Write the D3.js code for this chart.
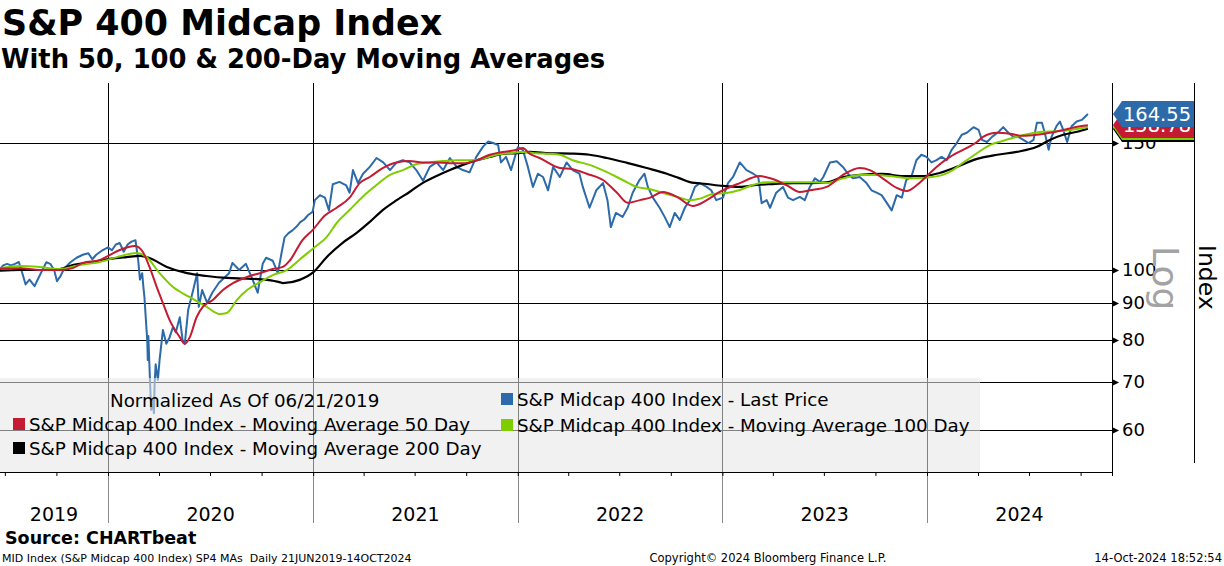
<!DOCTYPE html>
<html><head><meta charset="utf-8">
<script src="https://cdn.jsdelivr.net/npm/d3@7"></script>
<style>
body{margin:0;background:#fff}
svg{display:block}
text{font-family:"DejaVu Sans",sans-serif}
</style>
</head><body>
<svg id="c" width="1224" height="566"></svg>
<script>
// ---------------- data ----------------
const yTicks = [60, 70, 80, 90, 100, 150];
const yearLabels = ["2019", "2020", "2021", "2022", "2023", "2024"];
const seriesNames = [
  "S&P Midcap 400 Index - Last Price",
  "S&P Midcap 400 Index - Moving Average 50 Day",
  "S&P Midcap 400 Index - Moving Average 100 Day",
  "S&P Midcap 400 Index - Moving Average 200 Day"
];
const lastValues = [164.55, 158.78, 157.9, 157.0];

const lastPrice = [
["2019-06-21",100],["2019-06-28",101.5],["2019-07-05",102],["2019-07-12",101.5],["2019-07-19",102],["2019-07-26",102.6],
["2019-08-02",98.5],["2019-08-07",95.5],["2019-08-14",97],["2019-08-23",95],["2019-08-30",97.5],["2019-09-06",100],
["2019-09-13",102.5],["2019-09-20",102],["2019-09-27",100],["2019-10-02",96.5],["2019-10-08",98],["2019-10-15",100.5],
["2019-10-26",102.5],["2019-11-06",104],["2019-11-17",105],["2019-11-27",105.5],["2019-12-04",103.5],["2019-12-11",105],
["2019-12-22",106.5],["2020-01-01",107.5],
["2020-01-08",106.5],["2020-01-15",108.5],["2020-01-22",109],["2020-01-29",106],["2020-02-05",108.5],["2020-02-12",109.5],
["2020-02-19",110],["2020-02-24",103],["2020-02-27",97],["2020-03-02",99],["2020-03-04",95],["2020-03-06",91.7],
["2020-03-09",84.4],["2020-03-11",80],["2020-03-12",75],["2020-03-13",81],["2020-03-16",70],["2020-03-18",64],
["2020-03-20",66],["2020-03-23",63.3],["2020-03-24",69],["2020-03-26",74],["2020-03-30",70.4],["2020-04-02",75],
["2020-04-08",82.6],["2020-04-14",79],["2020-04-20",80.7],["2020-04-26",83.4],["2020-05-01",82],["2020-05-08",86],
["2020-05-13",80],["2020-05-17",79],["2020-05-23",88],["2020-06-01",93.8],["2020-06-08",99],["2020-06-11",88.9],
["2020-06-17",93.8],["2020-06-26",90],["2020-07-05",93],["2020-07-17",96],["2020-07-26",97.5],["2020-08-04",99],
["2020-08-10",102.3],["2020-08-22",100],["2020-09-03",102],["2020-09-15",97],["2020-09-24",93],["2020-10-03",102],
["2020-10-09",104],["2020-10-21",103],["2020-10-30",99],["2020-11-06",106],["2020-11-11",111],["2020-11-18",112.5],
["2020-11-25",113.5],["2020-12-02",114.8],["2020-12-09",116.5],["2020-12-16",117.5],["2020-12-23",119.2],["2020-12-31",120.4],
["2021-01-04",125],["2021-01-13",127],["2021-01-22",126],["2021-01-29",121],["2021-02-05",131.5],["2021-02-17",132.5],
["2021-03-01",131],["2021-03-07",128],["2021-03-13",137.6],["2021-03-22",132],["2021-03-31",136],["2021-04-12",139],
["2021-04-24",143],["2021-05-06",141],["2021-05-18",137.6],["2021-05-30",141],["2021-06-10",142],["2021-06-22",141],
["2021-07-04",137.6],["2021-07-16",133],["2021-07-28",139],["2021-08-09",141],["2021-08-21",137.6],["2021-09-02",143],
["2021-09-14",139],["2021-09-25",137.6],["2021-10-07",136.6],["2021-10-19",143.5],["2021-10-31",148.3],["2021-11-09",150.7],
["2021-11-18",150],["2021-11-27",149],["2021-12-02",141],["2021-12-11",143.5],["2021-12-20",137.6],["2022-01-01",148],
["2022-01-10",146.8],["2022-01-19",139],["2022-01-28",130.4],["2022-02-06",136],["2022-02-15",134.6],["2022-02-24",129],
["2022-03-05",139],["2022-03-17",134.6],["2022-03-29",141],["2022-04-09",137.6],["2022-04-21",136],["2022-04-27",130.4],
["2022-05-09",122],["2022-05-21",129],["2022-06-02",132],["2022-06-10",125],["2022-06-16",114.7],["2022-06-25",120],
["2022-07-07",118.5],["2022-07-16",122],["2022-07-25",128],["2022-08-06",133.3],["2022-08-15",136],["2022-08-21",130.4],
["2022-08-30",126],["2022-09-11",122],["2022-09-20",118.5],["2022-09-29",114.7],["2022-10-08",120],["2022-10-17",117.3],
["2022-10-26",122],["2022-11-04",125],["2022-11-13",130.4],["2022-11-22",132],["2022-12-04",130.4],["2022-12-12",129],
["2022-12-21",125],["2023-01-02",126],
["2023-01-11",132],["2023-01-20",134.6],["2023-02-01",141],["2023-02-13",137.6],["2023-02-25",136],["2023-03-06",134.6],
["2023-03-12",123.8],["2023-03-21",125],["2023-03-27",122],["2023-04-07",128],["2023-04-19",130.4],["2023-04-28",126],
["2023-05-07",125],["2023-05-19",126.3],["2023-05-28",125],["2023-06-06",130.4],["2023-06-15",134],["2023-06-24",132.5],
["2023-06-30",134.6],["2023-07-12",141],["2023-07-24",141.5],["2023-08-04",139],["2023-08-13",136],["2023-08-22",134],
["2023-09-03",134.6],["2023-09-15",132],["2023-09-24",129],["2023-10-03",128],["2023-10-12",127],["2023-10-21",124],
["2023-10-30",121],["2023-11-08",127],["2023-11-17",126],["2023-11-25",133.3],["2023-12-04",134.6],["2023-12-13",142],
["2023-12-22",144.5],["2023-12-31",143.5],
["2024-01-09",141],["2024-01-18",142],["2024-01-27",143.5],["2024-02-05",142],["2024-02-14",146.8],["2024-02-23",150],
["2024-03-03",154],["2024-03-12",155],["2024-03-24",157.8],["2024-04-02",156.4],["2024-04-08",151.5],["2024-04-17",150.5],
["2024-04-26",153],["2024-05-08",155.5],["2024-05-16",157.8],["2024-05-25",155],["2024-06-03",153],["2024-06-12",153],
["2024-06-21",151.5],["2024-06-30",150],["2024-07-09",151.5],["2024-07-15",160],["2024-07-24",160],["2024-07-29",155],
["2024-08-05",146.8],["2024-08-10",153],["2024-08-19",158.3],["2024-08-25",160.7],["2024-08-31",156.4],["2024-09-07",150.5],
["2024-09-15",158.3],["2024-09-24",160.7],["2024-10-03",161.5],["2024-10-14",164.55]
];

const ma50 = [
["2019-06-21",100.5],["2019-07-28",100.6],["2019-09-01",100],["2019-10-07",100],["2019-10-30",100.6],["2019-11-17",102.3],
["2019-12-17",103.2],["2020-01-04",104.9],["2020-01-22",106.6],["2020-02-18",108],["2020-03-03",106],["2020-03-15",101],
["2020-03-28",94.7],["2020-04-08",90],["2020-04-20",85.2],["2020-05-08",80.7],["2020-05-17",79],["2020-05-26",80.7],
["2020-06-07",86],["2020-06-18",88.9],["2020-07-06",90.9],["2020-07-24",93.8],["2020-08-11",95.9],["2020-09-05",97.8],
["2020-09-28",99],["2020-10-21",100.3],["2020-11-08",101],["2020-11-20",103],["2020-12-13",110],["2020-12-31",113.6],
["2021-01-22",119],["2021-02-12",122],["2021-03-07",126],["2021-03-25",132],["2021-04-12",134.6],["2021-05-05",138.5],
["2021-05-30",141],["2021-06-22",141.6],["2021-07-15",141],["2021-08-09",141],["2021-09-02",140.6],["2021-09-25",140.6],
["2021-10-20",142],["2021-11-12",144.5],["2021-12-05",145.8],["2021-12-30",146.8],["2022-01-10",147.7],["2022-01-22",145],
["2022-02-09",143],["2022-03-17",138.5],["2022-04-09",138],["2022-05-04",136],["2022-06-02",133.3],["2022-06-27",128],
["2022-07-16",124],["2022-08-07",125],["2022-08-24",125.9],["2022-09-17",128.3],["2022-10-12",126.3],["2022-11-09",122.7],
["2022-12-04",125],["2022-12-27",128.3],["2023-02-01",132],["2023-03-09",135],["2023-04-01",133.7],["2023-04-26",131],
["2023-05-19",128.3],["2023-06-06",129],["2023-07-06",130.4],["2023-08-04",135.5],["2023-09-03",138.5],["2023-09-21",137.6],
["2023-10-14",134],["2023-11-08",130],["2023-11-26",128.7],["2023-12-14",131.2],["2023-12-30",134.6],["2024-01-18",139],
["2024-02-11",143.5],["2024-03-12",147.7],["2024-03-30",150.5],["2024-04-10",153],["2024-05-05",155],["2024-05-28",154.5],
["2024-06-20",153.5],["2024-07-15",154],["2024-08-07",155],["2024-08-31",156.4],["2024-09-25",158],["2024-10-14",158.78]
];

const ma100 = [
["2019-06-21",100.6],["2019-07-28",101.3],["2019-09-01",101],["2019-10-07",100.3],["2019-11-12",101.6],["2019-12-17",102.6],
["2020-01-17",104.2],["2020-02-21",105.6],["2020-03-10",104.2],["2020-04-02",99],["2020-04-26",94.7],["2020-05-26",91.7],
["2020-06-25",88.9],["2020-07-18",86.9],["2020-07-31",87.2],["2020-08-18",90.9],["2020-09-05",93.8],["2020-09-28",96.2],
["2020-10-21",98.4],["2020-11-15",100],["2020-12-13",104.2],["2021-01-02",107.3],["2021-01-25",111.1],["2021-02-12",116.2],
["2021-03-07",121.1],["2021-03-30",126.3],["2021-04-24",131.2],["2021-05-18",135.5],["2021-06-10",137.6],["2021-07-05",140.3],
["2021-07-28",141],["2021-08-20",141.6],["2021-09-14",142],["2021-10-07",142],["2021-10-30",142.6],["2021-11-24",144.5],
["2021-12-18",145.2],["2022-01-10",145.8],["2022-02-04",145.2],["2022-02-27",144.9],["2022-03-17",144.5],["2022-04-09",142],
["2022-05-09",139.9],["2022-06-09",136.7],["2022-07-07",133.3],["2022-08-01",130.4],["2022-08-24",129.5],["2022-09-17",127.9],
["2022-10-12",126.3],["2022-11-04",125],["2022-11-22",125.6],["2022-12-15",127.5],["2023-01-09",127.9],["2023-02-01",129.1],
["2023-02-24",131.2],["2023-03-21",132.4],["2023-04-13",132.4],["2023-05-06",132.4],["2023-06-06",132.4],["2023-07-06",132],
["2023-08-04",134],["2023-09-03",135.5],["2023-10-03",135.5],["2023-11-08",134.6],["2023-12-07",134],["2023-12-30",134.3],
["2024-01-29",135.5],["2024-02-16",137.6],["2024-03-05",140.8],["2024-03-30",145.2],["2024-04-22",149],["2024-05-15",151],
["2024-06-09",153],["2024-07-02",154.5],["2024-07-25",155.5],["2024-08-19",155.8],["2024-09-12",156.4],["2024-10-14",157.9]
];

const ma200 = [
["2019-06-21",99.8],["2019-07-28",100],["2019-09-01",100],["2019-10-07",100.3],["2019-10-30",101.6],["2019-12-05",102.6],
["2020-01-04",103.6],["2020-02-03",104.2],["2020-02-27",104.6],["2020-03-15",103.9],["2020-04-15",101],["2020-05-21",99],
["2020-06-25",98.1],["2020-07-31",97.5],["2020-09-05",97.3],["2020-10-10",96.9],["2020-11-02",96.2],["2020-11-08",95.9],
["2020-12-08",96.9],["2021-01-02",99.4],["2021-01-25",104.2],["2021-02-22",109],["2021-03-19",112.5],["2021-04-12",116.6],
["2021-05-05",121.1],["2021-05-30",125],["2021-06-22",128.3],["2021-07-15",132],["2021-08-09",135],["2021-09-02",137.6],
["2021-09-25",139.9],["2021-10-20",142],["2021-11-12",143.5],["2021-12-05",144.9],["2021-12-30",145.2],["2022-01-22",145.8],
["2022-02-27",145.2],["2022-04-09",145],["2022-05-09",144.5],["2022-06-09",143],["2022-07-15",140.8],["2022-08-19",138.5],
["2022-09-24",136],["2022-10-17",134],["2022-11-04",132.4],["2022-12-04",131.6],["2023-01-02",130.8],["2023-02-01",130.4],
["2023-03-03",131.2],["2023-04-01",131.6],["2023-05-07",132],["2023-06-06",132],["2023-07-06",132.3],["2023-08-04",134.6],
["2023-09-03",135.5],["2023-10-14",135.9],["2023-11-19",135],["2023-12-24",135],["2024-01-18",136],["2024-02-23",139],
["2024-03-30",142.6],["2024-05-05",144.5],["2024-06-09",145.8],["2024-07-15",148.2],["2024-08-07",151.5],["2024-08-31",154],
["2024-09-25",155.5],["2024-10-14",157]
];

const colors = ["#2d6aa9", "#c41a32", "#7fcc00", "#000000"];

// ---------------- drawing ----------------
const svg = d3.select("#c");
const parse = d3.utcParse("%Y-%m-%d");
const start = parse("2019-06-21");
const end = d3.utcDay.offset(start, 1985);
const L = -0.76, R = 1112, T = 83, B = 472;

const x = d3.scaleUtc().domain([start, end]).range([L, R]);
const y = d3.scaleLog().domain([52.47, 181.7]).range([B, T]);

svg.append("defs").append("clipPath").attr("id", "clip")
  .append("rect").attr("x", 0).attr("y", T).attr("width", R).attr("height", B - T);

// titles
svg.append("text").attr("x", 2).attr("y", 35).attr("font-size", 34.9).attr("font-weight", "bold")
  .text("S&P 400 Midcap Index");
svg.append("text").attr("x", 1).attr("y", 68).attr("font-size", 25.8).attr("font-weight", "bold")
  .text("With 50, 100 & 200-Day Moving Averages");

// horizontal gridlines
svg.append("g").selectAll("line").data(yTicks).join("line")
  .attr("x1", 0).attr("x2", R).attr("y1", d => Math.round(y(d)) + 0.5).attr("y2", d => Math.round(y(d)) + 0.5)
  .attr("stroke", "#000").attr("stroke-width", 1);

// year boundaries
const years = d3.utcYear.range(start, end);
svg.append("g").selectAll("line").data(years).join("line")
  .attr("x1", d => Math.round(x(d)) + 0.5).attr("x2", d => Math.round(x(d)) + 0.5)
  .attr("y1", T).attr("y2", B).attr("stroke", "#000");
svg.append("g").selectAll("line").data(years).join("line")
  .attr("x1", d => Math.round(x(d)) + 0.5).attr("x2", d => Math.round(x(d)) + 0.5)
  .attr("y1", B).attr("y2", 523).attr("stroke", "#8a8a8a");

// series
const plot = svg.append("g").attr("clip-path", "url(#clip)");
const line = d3.line().x(d => x(parse(d[0]))).y(d => y(d[1]));
const smooth = d3.line().x(d => x(parse(d[0]))).y(d => y(d[1])).curve(d3.curveMonotoneX);
plot.append("path").datum(lastPrice).attr("d", line).attr("fill", "none")
  .attr("stroke", colors[0]).attr("stroke-width", 2).attr("stroke-linejoin", "round");
plot.append("path").datum(ma200).attr("d", smooth).attr("fill", "none").attr("stroke", colors[3]).attr("stroke-width", 2.2);
plot.append("path").datum(ma100).attr("d", smooth).attr("fill", "none").attr("stroke", colors[2]).attr("stroke-width", 2);
plot.append("path").datum(ma50).attr("d", smooth).attr("fill", "none").attr("stroke", colors[1]).attr("stroke-width", 2);

// legend (semi-transparent box)
svg.append("rect").attr("x", 0).attr("y", 378).attr("width", 980).attr("height", B - 378)
  .attr("fill", "#e6e6e6").attr("fill-opacity", 0.56);
const lg = svg.append("g").attr("font-size", 18.3);
lg.append("text").attr("x", 110).attr("y", 407).text("Normalized As Of 06/21/2019");
const legendItems = [
  {i: 0, x: 501, y: 393}, {i: 1, x: 13, y: 418}, {i: 2, x: 501, y: 419}, {i: 3, x: 13, y: 442}
];
legendItems.forEach(it => {
  lg.append("rect").attr("x", it.x).attr("y", it.y).attr("width", 12).attr("height", 12).attr("fill", colors[it.i]);
  lg.append("text").attr("x", it.x + 16).attr("y", it.y + 13).text(seriesNames[it.i]);
});

// bottom axis
const quarters = d3.utcMonth.every(3).range(d3.utcDay.offset(start, 1), end);
const xAxis = d3.axisBottom(x).tickValues(quarters).tickSize(4).tickFormat("");
const gx = svg.append("g").attr("transform", `translate(0,${B})`).call(xAxis);
gx.select(".domain").remove();
gx.selectAll(".tick line").attr("stroke", "#000");
svg.append("line").attr("x1", 0).attr("x2", R).attr("y1", B + 0.5).attr("y2", B + 0.5).attr("stroke", "#000");
const bounds = [start, ...years, end];
svg.append("g").selectAll("text").data(yearLabels).join("text")
  .attr("x", (d, i) => (Math.max(0, x(bounds[i])) + x(bounds[i + 1])) / 2)
  .attr("y", 521).attr("text-anchor", "middle").attr("font-size", 19).text(d => d);

// right axis
svg.append("line").attr("x1", R + 0.5).attr("x2", R + 0.5).attr("y1", T).attr("y2", 476).attr("stroke", "#000");
svg.append("line").attr("x1", 1194.5).attr("x2", 1194.5).attr("y1", T).attr("y2", 463).attr("stroke", "#000");
const yAxis = d3.axisRight(y).tickValues(yTicks).tickSize(0).tickPadding(10).tickFormat(d3.format("d"));
const gy = svg.append("g").attr("transform", `translate(${R},0)`).call(yAxis);
gy.select(".domain").remove();
gy.selectAll(".tick text").attr("font-size", 18).attr("fill", "#000").attr("font-family", "DejaVu Sans");
svg.append("g").selectAll("path").data(yTicks).join("path")
  .attr("d", d => { const v = Math.round(y(d)) + 0.5; return `M${R},${v - 3.5}L${R + 7},${v}L${R},${v + 3.5}Z`; })
  .attr("fill", "#000");

svg.append("text").attr("transform", "translate(1153,246) rotate(90)").attr("font-size", 36)
  .attr("fill", "#a3a3a3").text("Log");
svg.append("text").attr("transform", "translate(1199,245) rotate(90)").attr("font-size", 23.5)
  .attr("fill", "#000").text("Index");

// last value flags (bottom to top: 200, 100, 50, last price); only the top two labels show
const flagOrder = [3, 2, 1, 0];
const flagCenter = [114, 125, 127, 129];
flagOrder.forEach(i => {
  const cy = flagCenter[i];
  svg.append("path").attr("d", `M${R + 1},${cy}L${R + 10},${cy - 13}L1194,${cy - 13}L1194,${cy + 13}L${R + 10},${cy + 13}Z`)
    .attr("fill", colors[i]);
  if (i <= 1) {
    svg.append("text").attr("x", 1157).attr("y", cy + 7).attr("text-anchor", "middle").attr("font-size", 19.5)
      .attr("fill", "#fff").text(d3.format(".2f")(lastValues[i]));
  }
});

// footer
svg.append("text").attr("x", 5).attr("y", 544).attr("font-size", 17.5).attr("font-weight", "bold").text("Source: CHARTbeat");
svg.append("text").attr("x", 2).attr("y", 562).attr("font-size", 11).attr("xml:space", "preserve")
  .text("MID Index (S&P Midcap 400 Index) SP4 MAs  Daily 21JUN2019-14OCT2024");
svg.append("text").attr("x", 768).attr("y", 562).attr("font-size", 11.5).attr("text-anchor", "middle").text("Copyright\u00a9 2024 Bloomberg Finance L.P.");
svg.append("text").attr("x", 1222).attr("y", 562).attr("font-size", 11.5).attr("text-anchor", "end").text("14-Oct-2024 18:52:54");
</script>
</body></html>
